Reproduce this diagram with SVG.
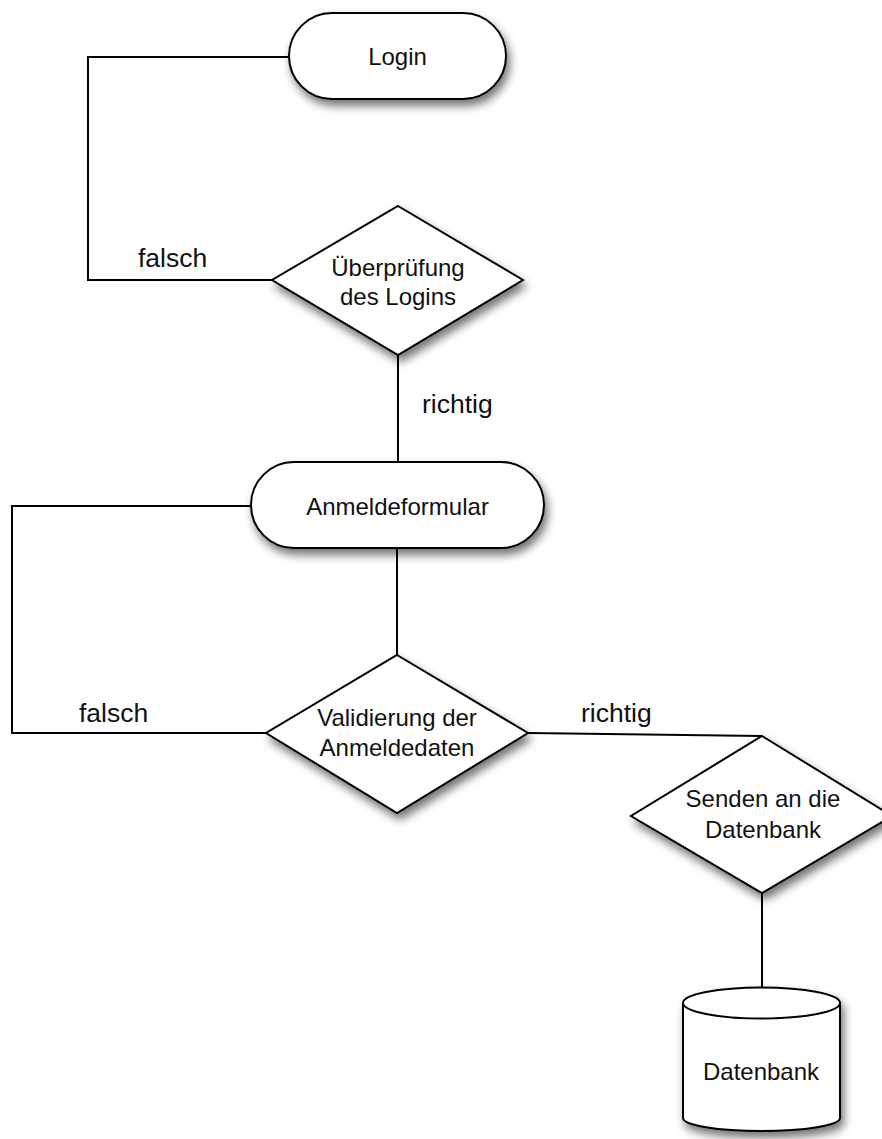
<svg xmlns="http://www.w3.org/2000/svg" width="882" height="1139" viewBox="0 0 882 1139">
<style>
.shape{fill:#fff;stroke:#000;stroke-width:2;filter:url(#sh)}
.edge{fill:none;stroke:#000;stroke-width:2}
.nt{font-family:"Liberation Sans",Arial,sans-serif;font-size:24px;fill:#111;text-anchor:middle}
.lb{font-family:"Liberation Sans",Arial,sans-serif;font-size:26.5px;fill:#111}
</style>
<defs>
<filter id="sh" x="-20%" y="-20%" width="150%" height="160%">
<feDropShadow dx="3" dy="6" stdDeviation="5" flood-color="#000" flood-opacity="0.55"/>
</filter>
</defs>
<rect width="882" height="1139" fill="#fff"/>
<g id="connectors">
<polyline class="edge" points="289,57 88,57 88,280 272,280"/>
<line class="edge" x1="398" y1="355" x2="398" y2="462"/>
<polyline class="edge" points="251,506 12,506 12,733 266,733"/>
<line class="edge" x1="397" y1="548" x2="397" y2="655"/>
<line class="edge" x1="528" y1="733" x2="762" y2="736"/>
<line class="edge" x1="762" y1="893" x2="762" y2="988"/>
<text class="lb" x="138" y="267">falsch</text>
<text class="lb" x="422" y="413">richtig</text>
<text class="lb" x="79" y="722">falsch</text>
<text class="lb" x="581" y="722">richtig</text>
</g>
<g id="login">
<rect class="shape" x="289" y="13" width="217" height="86" rx="43" ry="43"/>
<text class="nt" x="397.5" y="65">Login</text>
</g>
<g id="check-login">
<polygon class="shape" points="398,206 523,280 398,355 272,280"/>
<text class="nt" x="398" y="276">Überprüfung</text>
<text class="nt" x="398" y="305">des Logins</text>
</g>
<g id="anmeldeformular">
<rect class="shape" x="251" y="462" width="293" height="86" rx="43" ry="43"/>
<text class="nt" x="397.5" y="515">Anmeldeformular</text>
</g>
<g id="validierung">
<polygon class="shape" points="397,655 528,733 397,813 266,733"/>
<text class="nt" x="397" y="726">Validierung der</text>
<text class="nt" x="397" y="756">Anmeldedaten</text>
</g>
<g id="senden">
<polygon class="shape" points="762,736 892,816 762,893 631,816"/>
<text class="nt" x="763" y="807">Senden an die</text>
<text class="nt" x="763" y="838">Datenbank</text>
</g>
<g id="datenbank">
<path class="shape" d="M683,1003 L683,1118 A78.5,13 0 0 0 840,1118 L840,1003 A78.5,15.5 0 0 0 683,1003 Z"/>
<path class="edge" d="M683,1003 A78.5,15.5 0 0 0 840,1003"/>
<text class="nt" x="761" y="1080">Datenbank</text>
</g>
</svg>
